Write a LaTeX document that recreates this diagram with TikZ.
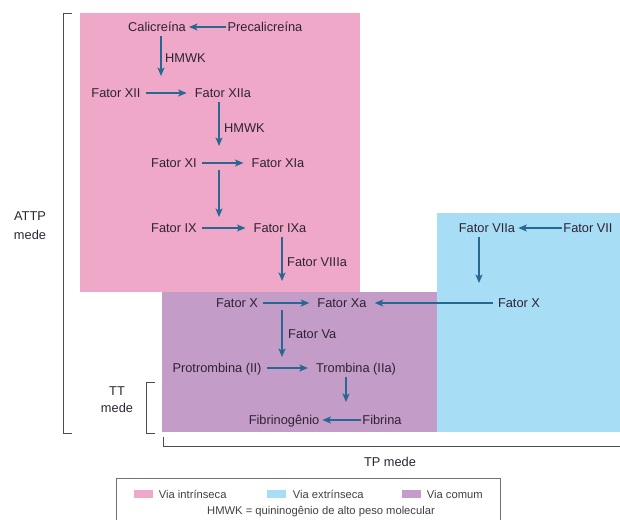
\documentclass[tikz,border=0pt]{standalone}
\usepackage{fontspec}
\setmainfont{Liberation Sans}
\usetikzlibrary{arrows.meta, positioning}
\definecolor{intrin}{RGB}{240,168,201}
\definecolor{extrin}{RGB}{168,221,246}
\definecolor{comum}{RGB}{195,156,200}
\definecolor{seta}{RGB}{38,104,146}
\definecolor{texto}{RGB}{45,35,50}

\begin{document}
\begin{tikzpicture}[
    x=1pt, y=-1pt,
    fator/.style={inner xsep=2pt, inner ysep=1pt, text height=9.2pt, text depth=0pt, text=texto, font=\fontsize{12.8}{15}\selectfont},
    rotulo/.style={fator, anchor=west},
    arrow/.style={-{Stealth[length=8.5pt, width=7pt, inset=2pt]}, line width=1.2pt, draw=seta, shorten <=3pt, shorten >=6pt},
    junto/.style={shorten <=-1pt, shorten >=1pt},
    chave/.style={draw=black!70, line width=0.8pt},
    amostra/.style={rectangle, minimum width=19pt, minimum height=8pt, inner sep=0pt},
    legenda/.style={inner sep=1pt, text=black!75, font=\fontsize{11.2}{13}\selectfont}
]
    \useasboundingbox (0,0) rectangle (620,519);

    % Regions
    \fill[intrin] (80,13) rectangle (360,292);
    \fill[extrin] (437,213) rectangle (620,432);
    \fill[comum] (162,292) rectangle (437,432);

    % Nodes
    \node[fator] (calik) at (157,27) {Calicreína};
    \node[fator] (precalik) at (265,27) {Precalicreína};
    \node[fator] (f12) at (116,93) {Fator XII};
    \node[fator] (f12a) at (223,93) {Fator XIIa};
    \node[fator] (f11) at (174,163) {Fator XI};
    \node[fator] (f11a) at (278,163) {Fator XIa};
    \node[fator] (f9) at (174,228) {Fator IX};
    \node[fator] (f9a) at (280,228) {Fator IXa};
    \node[fator] (f7a) at (487,228) {Fator VIIa};
    \node[fator] (f7) at (588,228) {Fator VII};
    \node[fator] (f10) at (237,303) {Fator X};
    \node[fator] (f10a) at (342,303) {Fator Xa};
    \node[fator] (f10e) at (519,303) {Fator X};
    \node[fator] (protromb) at (217,368) {Protrombina (II)};
    \node[fator] (tromb) at (356,368) {Trombina (IIa)};
    \node[fator] (fibrinog) at (284,420) {Fibrinogênio};
    \node[fator] (fibrina) at (382,420) {Fibrina};

    % Labels on arrows
    \node[rotulo] (hmwk1) at (163,58) {HMWK};
    \node[rotulo] (hmwk2) at (222,128) {HMWK};
    \node[rotulo] (f8a) at (285,262) {Fator VIIIa};
    \node[rotulo] (f5a) at (286,334) {Fator Va};

    % Arrow ends
    \coordinate (h1) at (161,82);
    \coordinate (h2) at (219,152);
    \coordinate (r3a) at (219,170);
    \coordinate (r3b) at (219,217);
    \coordinate (h4) at (282,287);
    \coordinate (h5) at (479,289);
    \coordinate (r6a) at (282,310);
    \coordinate (r6b) at (282,357);
    \coordinate (h7) at (346,408);

    % Arrows
    \draw[arrow, junto] (precalik) -- (calik);
    \draw[arrow] (calik.south -| h1) -- (h1);
    \draw[arrow] (f12) -- (f12a);
    \draw[arrow] (f12a.south -| h2) -- (h2);
    \draw[arrow] (f11) -- (f11a);
    \draw[arrow, shorten <=0pt, shorten >=0pt] (r3a) -- (r3b);
    \draw[arrow] (f9) -- (f9a);
    \draw[arrow] (f9a.south -| h4) -- (h4);
    \draw[arrow, junto] (f7) -- (f7a);
    \draw[arrow] (f7a.south -| h5) -- (h5);
    \draw[arrow] (f10) -- (f10a);
    \draw[arrow] (f10e) -- (f10a);
    \draw[arrow, shorten <=0pt, shorten >=0pt] (r6a) -- (r6b);
    \draw[arrow] (protromb) -- (tromb);
    \draw[arrow] (tromb.south -| h7) -- (h7);
    \draw[arrow, junto] (fibrina) -- (fibrinog);

    % Brackets
    \draw[chave] (72,13) -- (63,13) -- (63,433) -- (72,433);
    \draw[chave] (155,382) -- (146,382) -- (146,433) -- (155,433);
    \draw[chave] (163,437) -- (163,446) -- (620,446);
    \node[fator, align=center, text height=, font=\fontsize{12.8}{19}\selectfont] (attp) at (30,226) {ATTP\\mede};
    \node[fator, align=center, text height=, font=\fontsize{12.8}{17}\selectfont] (tt) at (117,400) {TT\\mede};
    \node[fator] (tp) at (390,462) {TP mede};

    % Legend
    \draw[black!55, line width=0.7pt] (116,478) rectangle (500,540);
    \node[amostra, fill=intrin] (sw1) at (143,494) {};
    \node[legenda, right=5pt of sw1] (lg1) {Via intrínseca};
    \node[amostra, fill=extrin] (sw2) at (276,494) {};
    \node[legenda, right=6pt of sw2] (lg2) {Via extrínseca};
    \node[amostra, fill=comum] (sw3) at (411,494) {};
    \node[legenda, right=5pt of sw3] (lg3) {Via comum};
    \node[legenda] (lg4) at (321,512) {HMWK = quininogênio de alto peso molecular};
\end{tikzpicture}
\end{document}
